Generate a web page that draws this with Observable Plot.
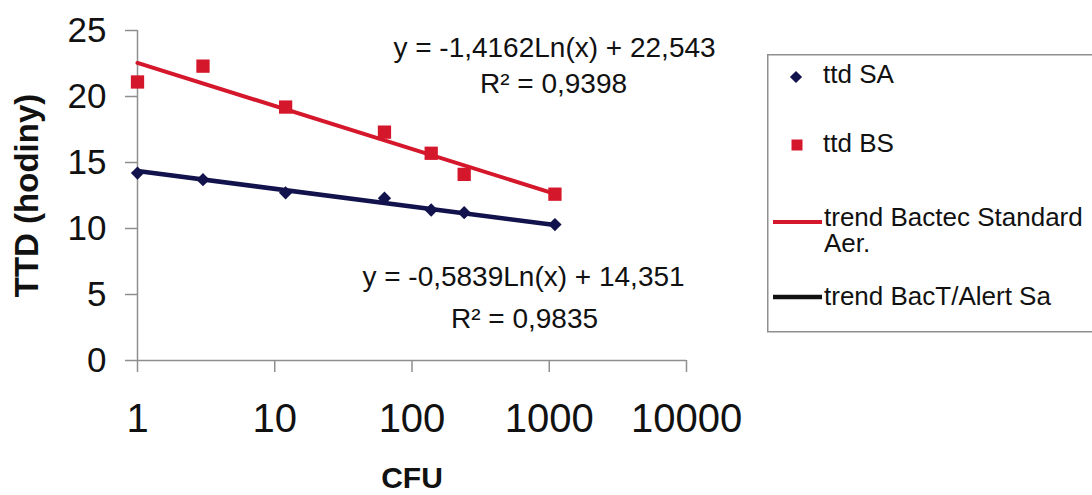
<!DOCTYPE html>
<html>
<head>
<meta charset="utf-8">
<script src="https://cdn.jsdelivr.net/npm/d3@7"></script>
<script src="https://cdn.jsdelivr.net/npm/@observablehq/plot@0.6"></script>
<style>
  html, body { margin: 0; padding: 0; background: #fff; overflow: hidden; }
  #wrap { position: relative; width: 1092px; height: 495px; font-family: "Liberation Sans", Arial, sans-serif; }
  #legend { position: absolute; left: 767px; top: 54px; }
</style>
</head>
<body>
<div id="wrap">
  <div id="chart"></div>
  <svg id="legend" width="325" height="280"></svg>
</div>
<script>
// CFU inoculum and time to detection (hours) for the two systems
const cfu   = [1, 3, 12, 63, 138, 240, 1100];
const ttdSA = [14.2, 13.7, 12.7, 12.3, 11.4, 11.2, 10.3];
const ttdBS = [21.1, 22.3, 19.2, 17.3, 15.7, 14.1, 12.6];

// Logarithmic trend lines: y = slope * Ln(x) + intercept
const trendNames     = ["trend Bactec Standard Aer.", "trend BacT/Alert Sa"];
const trendSlope     = [-1.4162, -0.5839];
const trendIntercept = [22.543, 14.351];
const trendR2        = [0.9398, 0.9835];

const xTicks = [1, 10, 100, 1000, 10000];
const yTicks = [0, 5, 10, 15, 20, 25];

const RED = "#d5172b";
const NAVY = "#12124c";
const AXIS = "#8f8f8f";
const FONT = '"Liberation Sans", Arial, sans-serif';

const sa = cfu.map((c, i) => ({cfu: c, ttd: ttdSA[i]}));
const bs = cfu.map((c, i) => ({cfu: c, ttd: ttdBS[i]}));

// A log trend is straight on a log x axis, so its two end points define it
const [x0, x1] = d3.extent(cfu);
const trendLine = (k) => [x0, x1].map(x => ({cfu: x, ttd: trendSlope[k] * Math.log(x) + trendIntercept[k]}));
const bsTrend = trendLine(0);
const saTrend = trendLine(1);

const dec = (v) => String(v).replace(".", ",");
const eqLine = (k) => `y = ${dec(trendSlope[k])}Ln(x) + ${dec(trendIntercept[k])}`;
const r2Line = (k) => `R² = ${dec(trendR2[k])}`;

// single-line label placed relative to the top-left corner of the frame
const label = (str, dx, dy, extra = {}) =>
  Plot.text([str], {text: d => d, frameAnchor: "top-left", dx, dy, textAnchor: "middle",
                    lineAnchor: "middle", fontSize: 28, fill: "#111", ...extra});

const chart = Plot.plot({
  width: 1092,
  height: 495,
  marginLeft: 137,
  marginRight: 406,
  marginTop: 30,
  marginBottom: 135,
  style: {fontFamily: FONT, background: "transparent", color: "#111", overflow: "visible"},
  x: {type: "log", domain: [1, 10000]},
  y: {domain: [0, 25]},
  marks: [
    Plot.ruleY([0], {stroke: AXIS, strokeWidth: 1.5}),
    Plot.ruleX([1], {stroke: AXIS, strokeWidth: 1.5}),
    Plot.axisY({ticks: yTicks, tickSize: 12, tickPadding: 19, stroke: AXIS, strokeWidth: 1.5,
                fill: "#111", fontSize: 35, label: null, tickFormat: d => String(d)}),
    Plot.axisX({ticks: xTicks, tickSize: 12, tickPadding: 31, stroke: AXIS, strokeWidth: 1.5,
                fill: "#111", fontSize: 40, label: null, tickFormat: d => String(d)}),
    Plot.line(bsTrend, {x: "cfu", y: "ttd", stroke: RED, strokeWidth: 4}),
    Plot.line(saTrend, {x: "cfu", y: "ttd", stroke: NAVY, strokeWidth: 4.5}),
    Plot.dot(bs, {x: "cfu", y: "ttd", symbol: "square", r: 7.5, fill: RED}),
    Plot.dot(sa, {x: "cfu", y: "ttd", symbol: "diamond2", r: 6, fill: NAVY}),
    // regression equations
    label(eqLine(0), 417, 18),
    label(r2Line(0), 416, 54),
    label(eqLine(1), 386, 247),
    label(r2Line(1), 387, 289),
    // axis titles
    Plot.text(["TTD (hodiny)"], {text: d => d, frameAnchor: "left", rotate: -90, dx: -110,
                                 textAnchor: "middle", lineAnchor: "middle",
                                 fontSize: 33, fontWeight: "bold", fill: "#111"}),
    Plot.text(["CFU"], {text: d => d, frameAnchor: "bottom", dy: 118,
                        textAnchor: "middle", lineAnchor: "middle",
                        fontSize: 30, fontWeight: "bold", fill: "#111"})
  ]
});
document.getElementById("chart").appendChild(chart);

// Legend
const lg = d3.select("#legend").style("font-family", FONT);
lg.append("rect").attr("x", 0.75).attr("y", 0.75).attr("width", 400).attr("height", 277)
  .attr("fill", "white").attr("stroke", AXIS).attr("stroke-width", 1.5);

const symDiamond = d3.symbol(d3.symbolDiamond2, Math.PI * 5.5 * 5.5);
const symSquare = d3.symbol(d3.symbolSquare, 121);
lg.append("path").attr("d", symDiamond()).attr("transform", "translate(29,23)").attr("fill", NAVY);
lg.append("path").attr("d", symSquare()).attr("transform", "translate(30,91)").attr("fill", RED);
lg.append("line").attr("x1", 6).attr("x2", 55).attr("y1", 168).attr("y2", 168)
  .attr("stroke", RED).attr("stroke-width", 4);
lg.append("line").attr("x1", 6).attr("x2", 55).attr("y1", 243).attr("y2", 243)
  .attr("stroke", "#111").attr("stroke-width", 4.5);

// legend entries; the long trend name wraps onto a second line
const legendText = [
  {x: 56, y: 29, lines: ["ttd SA"]},
  {x: 56, y: 98, lines: ["ttd BS"]},
  {x: 57, y: 172, lines: ["trend Bactec Standard", "Aer."]},
  {x: 57, y: 251, lines: [trendNames[1]]}
];
lg.selectAll("text.item").data(legendText).join("text")
  .attr("class", "item")
  .attr("x", d => d.x).attr("y", d => d.y)
  .attr("font-size", 26).attr("fill", "#111")
  .each(function (d) {
    d3.select(this).selectAll("tspan").data(d.lines).join("tspan")
      .attr("x", d.x)
      .attr("dy", (_, i) => (i === 0 ? 0 : 26))
      .text(t => t);
  });
</script>
</body>
</html>
